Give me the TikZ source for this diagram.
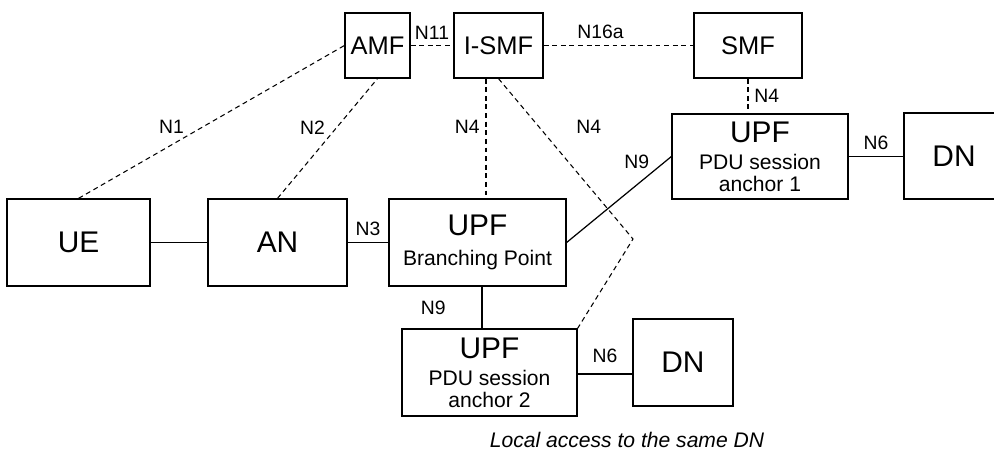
\documentclass[tikz,border=0pt]{standalone}
\usepackage{fontspec}
\setmainfont{Liberation Sans}
\newcommand{\subtxt}{\fontsize{12}{13}\selectfont}

\begin{document}
\begin{tikzpicture}[
  box/.style={draw, line width=0.7pt, inner sep=0pt, align=center, font=\fontsize{17}{18}\selectfont},
  cbox/.style={box, font=\fontsize{14.5}{16}\selectfont},
  ctrl/.style={dash pattern=on 2.8pt off 2.1pt, line width=0.6pt},
  user/.style={line width=0.7pt},
  lbl/.style={font=\fontsize{11}{12}\selectfont}]
  \useasboundingbox (0,0) rectangle (19.88,-8.98);
  \clip (0,0) rectangle (19.88,-8.98);
  % control plane
  \node[cbox, minimum width=1.30cm, minimum height=1.30cm] (amf) at (7.55,-0.91) {AMF};
  \node[cbox, minimum width=1.78cm, minimum height=1.30cm] (ismf) at (9.97,-0.91) {I-SMF};
  \node[cbox, minimum width=2.16cm, minimum height=1.30cm] (smf) at (14.96,-0.91) {SMF};
  % access and user plane
  \node[box, minimum width=2.86cm, minimum height=1.74cm] (ue) at (1.57,-4.85) {UE};
  \node[box, minimum width=2.78cm, minimum height=1.74cm] (an) at (5.55,-4.85) {AN};
  \node[box, minimum width=3.54cm, minimum height=1.74cm] (upfbp) at (9.55,-4.85) {UPF\\[-1pt]{\subtxt Branching Point}};
  \node[box, minimum width=3.52cm, minimum height=1.70cm] (upfa) at (15.20,-3.13) {UPF\\[-2.7pt]{\subtxt PDU session}\\[-5.5pt]{\subtxt anchor 1}};
  \node[box, minimum width=2.00cm, minimum height=1.72cm] (dna) at (19.08,-3.12) {DN};
  \node[box, minimum width=3.50cm, minimum height=1.74cm] (upfb) at (9.79,-7.45) {UPF\\[-2.7pt]{\subtxt PDU session}\\[-5.5pt]{\subtxt anchor 2}};
  \node[box, minimum width=2.00cm, minimum height=1.74cm] (dnb) at (13.66,-7.25) {DN};
  \node[font=\fontsize{12}{13}\selectfont\itshape] (note) at (12.54,-8.79) {Local access to the same DN};
  \coordinate (kink) at (12.66,-4.78);

  % user plane links
  \draw[user] (ue) -- (an);
  \draw[user] (an) -- node[lbl, above] {N3} (upfbp);
  \draw[user] (upfbp.east) -- node[lbl, pos=0.67, yshift=0.46cm] {N9} (upfa.west);
  \draw[user] ([xshift=0.09cm]upfbp.south) -- node[lbl, left=0.6cm] {N9} ([xshift=0.09cm]upfbp.south |- upfb.north);
  \draw[user] (upfa.east) -- node[lbl, above] {N6} (upfa.east -| dna.west);
  \draw[user] ([yshift=-0.03cm]upfb.east) -- node[lbl, above=0.1cm] {N6} ([yshift=-0.03cm]upfb.east -| dnb.west);

  % control plane links
  \draw[ctrl] (ue.north) -- node[lbl, pos=0.35, yshift=0.37cm] {N1} (amf.west);
  \draw[ctrl] (an.north) -- node[lbl, pos=0.59, xshift=-0.48cm] {N2} (amf.south);
  \draw[ctrl] (amf) -- node[lbl, above] {N11} (ismf);
  \draw[ctrl] (ismf) -- node[lbl, pos=0.38, above] {N16a} (smf);
  \draw[ctrl] ([xshift=-0.25cm]ismf.south) -- node[lbl, pos=0.4, left] {N4} ([xshift=-0.25cm]ismf.south |- upfbp.north);
  \draw[ctrl] (ismf.south) -- node[lbl, pos=0.3, xshift=1cm] {N4} (kink) -- (upfb.north east);
  \draw[ctrl] (smf.south) -- node[lbl, right] {N4} (smf.south |- upfa.north);
\end{tikzpicture}
\end{document}
